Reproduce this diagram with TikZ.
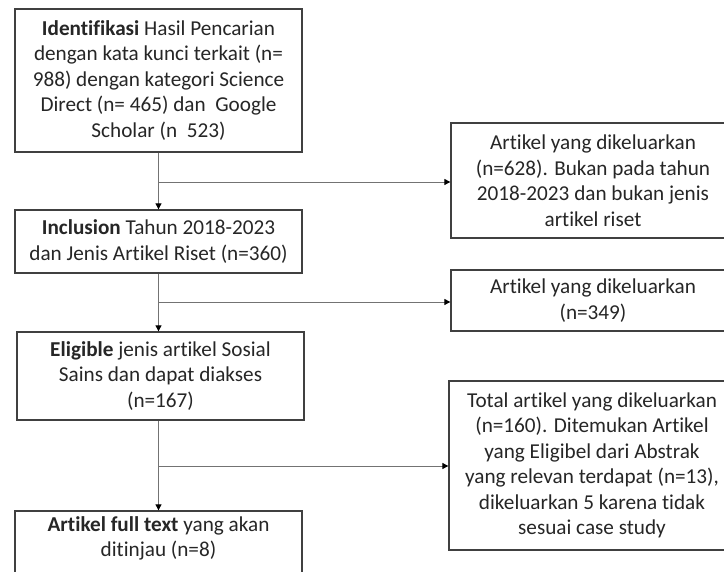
\documentclass[tikz,border=0pt]{standalone}
\usepackage{fontspec}
\setmainfont{Carlito}[Ligatures={NoCommon,NoRare,NoContextual}]
\usetikzlibrary{arrows.meta}
\begin{document}
\begin{tikzpicture}[x=1pt,y=-1pt,
  box/.style={draw=black!75, line width=1.3pt, rectangle, inner sep=0pt, align=center,
    font=\fontsize{21.2}{25.5}\selectfont, text=black!85},
  conn/.style={draw=black!55, line width=0.9pt},
  arr/.style={conn, -{Triangle[length=6pt,width=6pt]}, arrows={[color=black]}}]
\useasboundingbox (0,0) rectangle (724,572);
\fill[white] (0,0) rectangle (724,572);
\clip (0,0) rectangle (724,572);
\node[box, minimum width=287pt, minimum height=143pt] (b1) at (158.5,80.5)
  {\textbf{Identifikasi} Hasil Pencarian\\dengan kata kunci terkait (n=\\988) dengan kategori Science\\Direct (n= 465) dan~ Google\\Scholar (n~~523)};
\node[box, minimum width=287pt, minimum height=63pt] (b2) at (158.5,241.5)
  {\textbf{Inclusion} Tahun 2018-2023\\dan Jenis Artikel Riset (n=360)};
\node[box, minimum width=287pt, minimum height=88pt] (b3) at (160.5,376)
  {\textbf{Eligible} jenis artikel Sosial\\Sains dan dapat diakses\\(n=167)};
\node[box, minimum width=287pt, minimum height=84pt] (b4) at (158.5,553)
  {\textbf{Artikel full text} yang akan\\ditinjau (n=8)\\\strut};
\node[box, minimum width=284pt, minimum height=115pt] (r1) at (593,180.5)
  {Artikel yang dikeluarkan\\(n=628). Bukan pada tahun\\2018-2023 dan bukan jenis\\artikel riset};
\node[box, minimum width=284pt, minimum height=61pt] (r2) at (593,300.5)
  {Artikel yang dikeluarkan\\(n=349)};
\node[box, minimum width=286pt, minimum height=169pt] (r3) at (592,465.5)
  {Total artikel yang dikeluarkan\\(n=160). Ditemukan Artikel\\yang Eligibel dari Abstrak\\yang relevan terdapat (n=13),\\dikeluarkan 5 karena tidak\\sesuai case study};
\coordinate (j1) at (158.5,182);
\coordinate (j2) at (158.5,302);
\coordinate (j3) at (158.5,466);
\draw[arr] (b1.south) -- (b2.north);
\draw[arr] (j1) -- (j1 -| r1.west);
\draw[arr] (b2.south) -- (b2.south |- b3.north);
\draw[arr] (j2) -- (j2 -| r2.west);
\draw[arr] (b2.south |- b3.south) -- (b2.south |- b4.north);
\draw[arr] (j3) -- (j3 -| r3.west);
\end{tikzpicture}
\end{document}
